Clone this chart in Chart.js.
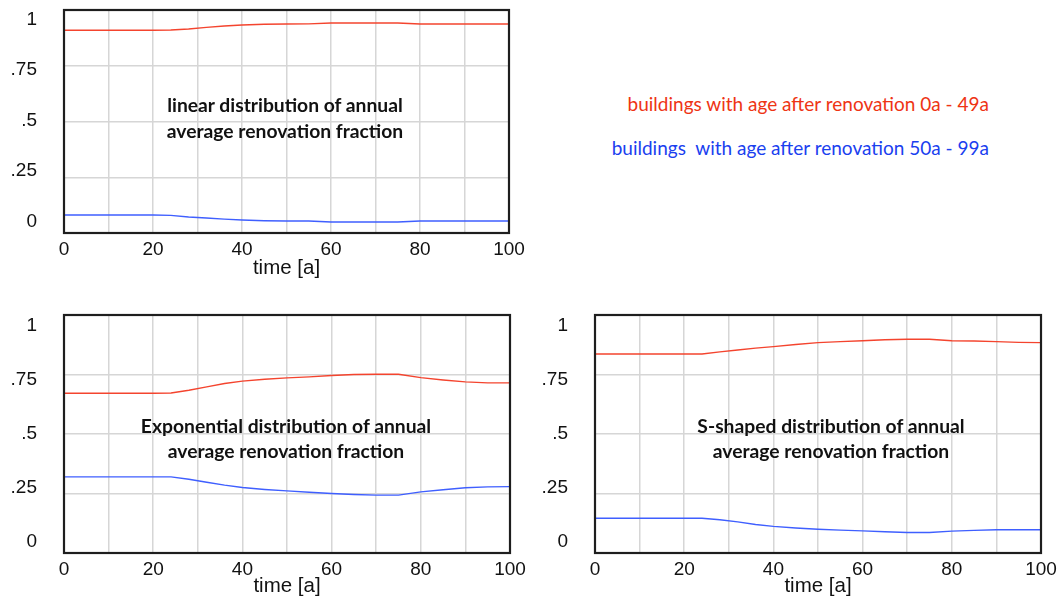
<!DOCTYPE html>
<html><head><meta charset="utf-8">
<script src="https://cdn.jsdelivr.net/npm/chart.js@4"></script>
<style>
html,body{margin:0;padding:0;background:#fff;width:1062px;height:601px;overflow:hidden;position:relative}
canvas{position:absolute;display:block}
.lbl{position:absolute;white-space:pre;transform:translate(-50%,-50%);font-family:Lato,'Open Sans',sans-serif;font-weight:bold;font-size:19.3px;color:#111;line-height:1}
.leg{position:absolute;white-space:pre;transform:translate(-100%,-50%);font-family:Lato,'Open Sans',sans-serif;font-size:19px;line-height:1}
</style></head><body>
<canvas id="c1" width="530" height="283" style="left:0;top:0"></canvas>
<canvas id="c2" width="530" height="301" style="left:0;top:300px"></canvas>
<canvas id="c3" width="531" height="301" style="left:531px;top:300px"></canvas>
<div class="leg" style="left:989px;top:103px;color:#ee3414">buildings with age after renovation 0a - 49a</div>
<div class="leg" style="left:989px;top:147px;color:#1a40ef">buildings  with age after renovation 50a - 99a</div>
<div class="lbl" style="left:285px;top:105px">linear distribution of annual</div>
<div class="lbl" style="left:285px;top:131px">average renovation fraction</div>
<div class="lbl" style="left:286px;top:426px">Exponential distribution of annual</div>
<div class="lbl" style="left:286px;top:451px">average renovation fraction</div>
<div class="lbl" style="left:831px;top:426px">S-shaped distribution of annual</div>
<div class="lbl" style="left:831px;top:451px">average renovation fraction</div>
<script>
// ---- data ----
const years = [0, 10, 20, 24, 28, 32, 36, 40, 45, 50, 55, 60, 65, 70, 75, 80, 85, 90, 95, 100];
const linearRed = [0.909, 0.909, 0.909, 0.910, 0.915, 0.922, 0.928, 0.933, 0.936, 0.937, 0.938, 0.942, 0.942, 0.942, 0.942, 0.937, 0.937, 0.937, 0.937, 0.937];
const linearBlue = [0.081, 0.081, 0.081, 0.079, 0.072, 0.067, 0.062, 0.058, 0.055, 0.054, 0.054, 0.049, 0.049, 0.049, 0.049, 0.054, 0.054, 0.054, 0.054, 0.054];
const expRed = [0.671, 0.671, 0.671, 0.672, 0.684, 0.698, 0.712, 0.722, 0.730, 0.736, 0.740, 0.746, 0.750, 0.751, 0.751, 0.737, 0.727, 0.719, 0.715, 0.715];
const expBlue = [0.320, 0.320, 0.320, 0.320, 0.310, 0.297, 0.285, 0.275, 0.267, 0.261, 0.255, 0.250, 0.246, 0.243, 0.243, 0.257, 0.266, 0.274, 0.278, 0.279];
const sRed = [0.836, 0.836, 0.836, 0.836, 0.845, 0.853, 0.861, 0.867, 0.876, 0.884, 0.888, 0.892, 0.896, 0.898, 0.898, 0.892, 0.891, 0.888, 0.885, 0.884];
const sBlue = [0.146, 0.146, 0.146, 0.146, 0.140, 0.131, 0.120, 0.112, 0.105, 0.100, 0.096, 0.093, 0.089, 0.086, 0.086, 0.092, 0.095, 0.098, 0.098, 0.098];
const yTickLabels = ['0', '.25', '.5', '.75', '1'];
const xTitle = 'time [a]';

// ---- drawing ----
Chart.defaults.font.family = "'Liberation Sans', Arial, sans-serif";
Chart.defaults.font.size = 19;
Chart.defaults.color = '#111';

const framePlugin = {
  id: 'frame',
  afterDatasetsDraw(chart) {
    const a = chart.chartArea, ctx = chart.ctx;
    ctx.save();
    ctx.strokeStyle = '#1e1e1e';
    ctx.lineWidth = 2.2;
    ctx.strokeRect(a.left, a.top, a.right - a.left, a.bottom - a.top);
    ctx.restore();
  }
};

function pts(vals) { return years.map((x, i) => ({x: x, y: vals[i]})); }
function noPad(s) { s.paddingTop = 0; s.paddingBottom = 0; s.paddingLeft = 0; s.paddingRight = 0; }

function makeChart(id, red, blue, g) {
  const unit = g.labelBottom - g.labelTop;
  const lmin = -(g.bottom - g.labelBottom) / unit;
  const lmax = 1 + (g.labelTop - g.top) / unit;
  const canvas = document.getElementById(id);
  return new Chart(canvas, {
    type: 'line',
    data: {
      datasets: [
        {data: pts(red), borderColor: '#f4442e', borderWidth: 1.4, pointRadius: 0, tension: 0, yAxisID: 'y'},
        {data: pts(blue), borderColor: '#3f5fff', borderWidth: 1.4, pointRadius: 0, tension: 0, yAxisID: 'y'}
      ]
    },
    options: {
      responsive: false, animation: false, devicePixelRatio: 1,
      events: [],
      layout: {padding: {left: 0, top: g.top, right: g.w - g.right, bottom: 0}},
      plugins: {legend: {display: false}, tooltip: {enabled: false}},
      scales: {
        x: {
          type: 'linear', min: 0, max: 100,
          border: {display: false},
          grid: {color: '#d6d6d6', lineWidth: 1.5, drawTicks: false},
          ticks: {stepSize: 10, padding: 5, maxRotation: 0, autoSkip: false,
                  callback: v => (v % 20 === 0 ? String(v) : '')},
          title: {display: true, text: xTitle, font: {size: 20.5}, padding: {top: 0, bottom: 2}},
          afterFit: s => { s.height = g.h - g.bottom; noPad(s); }
        },
        y: {
          type: 'linear', position: 'left', min: 0, max: 1, weight: 0,
          border: {display: false},
          grid: {color: '#d6d6d6', lineWidth: 1.5, drawTicks: false},
          ticks: {display: false, stepSize: 0.25},
          afterFit: s => { s.width = 0; noPad(s); }
        },
        yl: {
          type: 'linear', position: 'left', min: lmin, max: lmax, weight: 1,
          border: {display: false},
          grid: {display: false, drawTicks: false},
          ticks: {stepSize: 0.25, includeBounds: false, padding: 27,
                  callback: v => yTickLabels[Math.round(v / 0.25)]},
          afterBuildTicks: s => { s.ticks = [0, 0.25, 0.5, 0.75, 1].map(v => ({value: v})); },
          afterFit: s => { s.width = g.left; noPad(s); }
        }
      }
    },
    plugins: [framePlugin]
  });
}

makeChart('c1', linearRed, linearBlue, {w: 530, h: 283, left: 64, top: 10, right: 509, bottom: 233, labelTop: 19.5, labelBottom: 221.5});
makeChart('c2', expRed, expBlue, {w: 530, h: 301, left: 64, top: 15, right: 510, bottom: 253, labelTop: 25.5, labelBottom: 242});
makeChart('c3', sRed, sBlue, {w: 531, h: 301, left: 64, top: 15, right: 510, bottom: 253, labelTop: 25.5, labelBottom: 242});
</script>
</body></html>
